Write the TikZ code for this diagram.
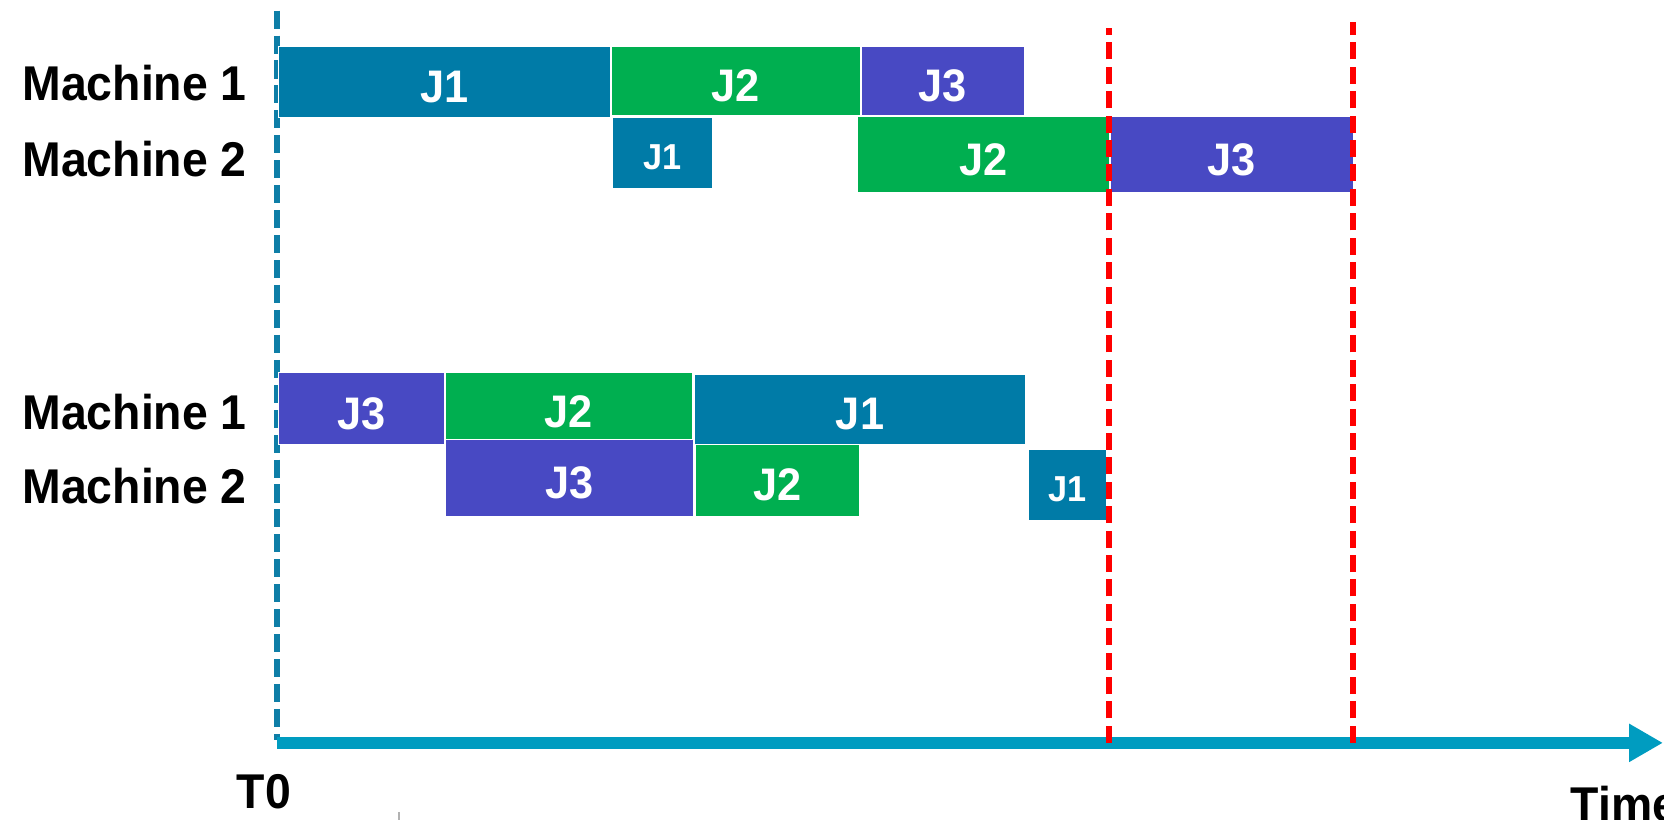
\documentclass[tikz,border=0pt]{standalone}
\usepackage{fontspec}
\setmainfont{Liberation Sans}[FakeStretch=0.95]
\usetikzlibrary{arrows.meta}
\definecolor{jone}{HTML}{007BA7}
\definecolor{jtwo}{HTML}{00AF50}
\definecolor{jthree}{HTML}{4849C3}
\definecolor{axisc}{HTML}{009CC0}
\definecolor{tzero}{HTML}{0E7EA7}
\definecolor{redline}{HTML}{FF0000}
\begin{document}
\begin{tikzpicture}[x=1pt,y=-1pt,
  bar/.style={draw=white, line width=0.8pt, inner sep=0pt, anchor=north west, text=white,
    font=\fontsize{43}{43}\selectfont\bfseries, text height=39pt, text depth=0pt},
  smallbar/.style={bar, font=\fontsize{34}{34}\selectfont\bfseries, text height=32pt},
  lbl/.style={anchor=base west, inner sep=0pt, font=\fontsize{46}{46}\selectfont\bfseries},
  tline/.style={tzero, line width=5.5pt, dash pattern=on 17pt off 6.5pt},
  rline/.style={redline, line width=5.5pt, dash pattern=on 16pt off 7pt},
  axisline/.style={axisc, line width=11pt, -{Triangle[length=32pt,width=34pt]}}]
\useasboundingbox (0,0) rectangle (1568,772);
\clip (0,0) rectangle (1568,772);
% T0 dashed line
\coordinate (t0top) at (261,10);
\coordinate (t0bot) at (261,697);
\draw[tline] (t0top) -- (t0bot);
% top schedule
\node[bar, fill=jone, minimum width=313pt, minimum height=67pt] (a1) at (262,43) {J1};
\node[bar, fill=jtwo, minimum width=234pt, minimum height=65pt] (a2) at (576,43) {J2};
\node[bar, fill=jthree, minimum width=154pt, minimum height=65pt] (a3) at (811,43) {J3};
\node[smallbar, fill=jone, minimum width=94pt, minimum height=67pt] (b1) at (577,110) {J1};
\node[bar, fill=jtwo, minimum width=237pt, minimum height=72pt] (b2) at (808,109) {J2};
\node[bar, fill=jthree, minimum width=229pt, minimum height=72pt] (b3) at (1046,109) {J3};
% bottom schedule
\node[bar, fill=jthree, minimum width=156pt, minimum height=67pt] (c1) at (262,351) {J3};
\node[bar, fill=jtwo, minimum width=233pt, minimum height=63pt] (c2) at (419,351) {J2};
\node[bar, fill=jone, minimum width=312pt, minimum height=66pt] (c3) at (654,352) {J1};
\node[bar, fill=jthree, minimum width=234pt, minimum height=72pt] (d1) at (419,414) {J3};
\node[bar, fill=jtwo, minimum width=154pt, minimum height=68pt] (d2) at (655,418) {J2};
\node[smallbar, fill=jone, minimum width=73pt, minimum height=67pt] (d3) at (969,423) {J1};
% time axis
\coordinate (ax0) at (261,700);
\coordinate (ax1) at (1567,700);
\draw[axisline] (ax0) -- (ax1);
% red dashed lines
\coordinate (r1top) at (1045,26);
\coordinate (r1bot) at (1045,700);
\coordinate (r2top) at (1275,21);
\coordinate (r2bot) at (1275,700);
\draw[rline] (r1bot) -- (r1top);
\draw[rline] (r2bot) -- (r2top);
% labels
\node[lbl] (m1a) at (21,95) {Machine 1};
\node[lbl] (m2a) at (21,166) {Machine 2};
\node[lbl] (m1b) at (21,405) {Machine 1};
\node[lbl] (m2b) at (21,474) {Machine 2};
\node[lbl] (t0) at (223,762) {T0};
\node[lbl] (time) at (1480,774) {Time};
% small tick
\coordinate (tk1) at (376,765);
\coordinate (tk2) at (376,773);
\draw[gray!60, line width=1.5pt] (tk1) -- (tk2);
\end{tikzpicture}
\end{document}
